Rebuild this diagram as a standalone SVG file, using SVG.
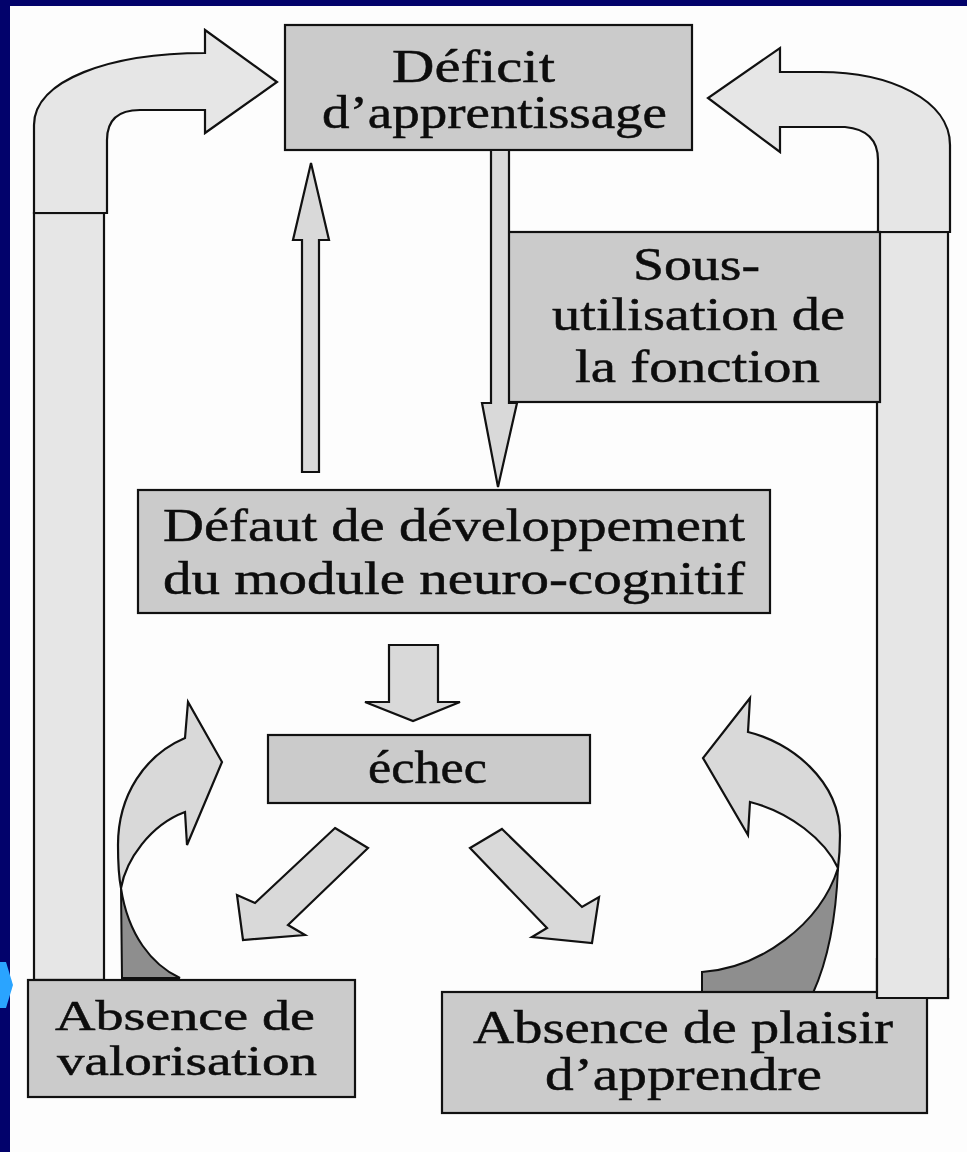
<svg xmlns="http://www.w3.org/2000/svg" width="967" height="1152" viewBox="0 0 967 1152">
  <defs>
    <style>
      .box { fill: #cbcbcb; stroke: #111; stroke-width: 2.2; }
      .arr { fill: #d9d9d9; stroke: #111; stroke-width: 2.2; stroke-linejoin: miter; }
      .big { fill: #e6e6e6; stroke: #111; stroke-width: 2.2; }
      .dark { fill: #8e8e8e; stroke: #111; stroke-width: 2; }
      .lbl { font-family: "Liberation Serif", "Times New Roman", serif; font-size: 46px; fill: #0d0d0d; stroke: #0d0d0d; stroke-width: 0.5; }
      .sm { font-size: 42px; }
    </style>
  </defs>
  <rect x="0" y="0" width="967" height="1152" fill="#02026b"/>
  <rect x="10" y="6" width="957" height="1146" fill="#fdfdfd"/>
  <path d="M0,962 L6,962 L13,985 L6,1008 L0,1008 Z" fill="#2aa4ff"/>

  <g id="connectors">
    <!-- left big bent arrow -->
    <rect class="big" x="34" y="213" width="70" height="767"/>
    <path class="big" d="M34,213 L34,125 C34,80 110,53 205,53 L205,30 L277,82 L205,133 L205,110 L140,110 Q107,110 107,140 L107,213 Z"/>
    <!-- right big bent arrow -->
    <rect class="big" x="877" y="232" width="71" height="766"/>
    <path class="big" d="M950,232 L950,145 C950,100 890,72 820,72 L780,72 L780,48 L708,98 L780,152 L780,127 L845,127 Q878,130 878,160 L878,232 Z"/>
    <!-- up thin arrow -->
    <polygon class="arr" points="302,472 302,240 293,240 311,163 329,240 319,240 319,472"/>
    <!-- fat down arrow to echec -->
    <polygon class="arr" points="389,645 389,702 365,702 413,721 460,702 438,702 438,645"/>
    <!-- diagonal arrows -->
    <polygon class="arr" points="335,828 368,848 288,925 305,935 243,940 237,895 255,903"/>
    <polygon class="arr" points="502,829 582,907 599,897 592,943 532,937 547,928 470,848"/>
    <!-- left curved arrow -->
    <path class="dark" d="M121,888 L122,978 L180,978 C152,965 128,935 121,888 Z"/>
    <path class="arr" d="M185,738 C145,755 118,795 118,845 C118,865 119,878 121,888 C126,860 150,825 185,812 L187,845 L222,762 L188,702 Z"/>
    <!-- right curved arrow -->
    <path class="dark" d="M838,868 C836,920 828,960 813,993 L702,993 L702,972 C760,968 820,925 838,868 Z"/>
    <path class="arr" d="M748,732 C790,742 840,780 840,835 C840,850 839,860 838,868 C825,840 790,812 750,802 L748,835 L703,758 L750,698 Z"/>
  </g>

  <g id="deficit">
    <rect class="box" x="285" y="25" width="407" height="125"/>
    <text class="lbl" x="392" y="82" textLength="163" lengthAdjust="spacingAndGlyphs">Déficit</text>
    <text class="lbl" x="322" y="128" textLength="345" lengthAdjust="spacingAndGlyphs">d’apprentissage</text>
  </g>

  <g id="sous-utilisation">
    <rect class="box" x="507" y="232" width="373" height="170"/>
    <text class="lbl" x="633" y="280" textLength="127" lengthAdjust="spacingAndGlyphs">Sous-</text>
    <text class="lbl" x="552" y="330" textLength="293" lengthAdjust="spacingAndGlyphs">utilisation de</text>
    <text class="lbl" x="575" y="382" textLength="245" lengthAdjust="spacingAndGlyphs">la fonction</text>
  </g>

  <g id="down-arrow-thin">
    <polygon class="arr" points="491,150 491,403 482,403 498,487 517,403 509,403 509,150"/>
  </g>

  <g id="defaut">
    <rect class="box" x="138" y="490" width="632" height="123"/>
    <text class="lbl" x="163" y="541" textLength="582" lengthAdjust="spacingAndGlyphs">Défaut de développement</text>
    <text class="lbl" x="163" y="594" textLength="582" lengthAdjust="spacingAndGlyphs">du module neuro-cognitif</text>
  </g>

  <g id="echec">
    <rect class="box" x="268" y="735" width="322" height="68"/>
    <text class="lbl" x="368" y="783" textLength="119" lengthAdjust="spacingAndGlyphs">échec</text>
  </g>

  <g id="absence-valorisation">
    <rect class="box" x="28" y="980" width="327" height="117"/>
    <text class="lbl sm" x="55" y="1030" textLength="260" lengthAdjust="spacingAndGlyphs">Absence de</text>
    <text class="lbl sm" x="57" y="1075" textLength="260" lengthAdjust="spacingAndGlyphs">valorisation</text>
  </g>

  <g id="absence-plaisir">
    <rect class="box" x="442" y="992" width="485" height="121"/>
    <text class="lbl" x="473" y="1043" textLength="420" lengthAdjust="spacingAndGlyphs">Absence de plaisir</text>
    <text class="lbl" x="545" y="1090" textLength="277" lengthAdjust="spacingAndGlyphs">d’apprendre</text>
  </g>

  <g id="right-shaft-overlay">
    <rect x="877" y="958" width="71" height="40" fill="#e6e6e6"/>
    <path d="M877,958 L877,998 L948,998 L948,958" fill="none" stroke="#111" stroke-width="2.2"/>
  </g>
</svg>
